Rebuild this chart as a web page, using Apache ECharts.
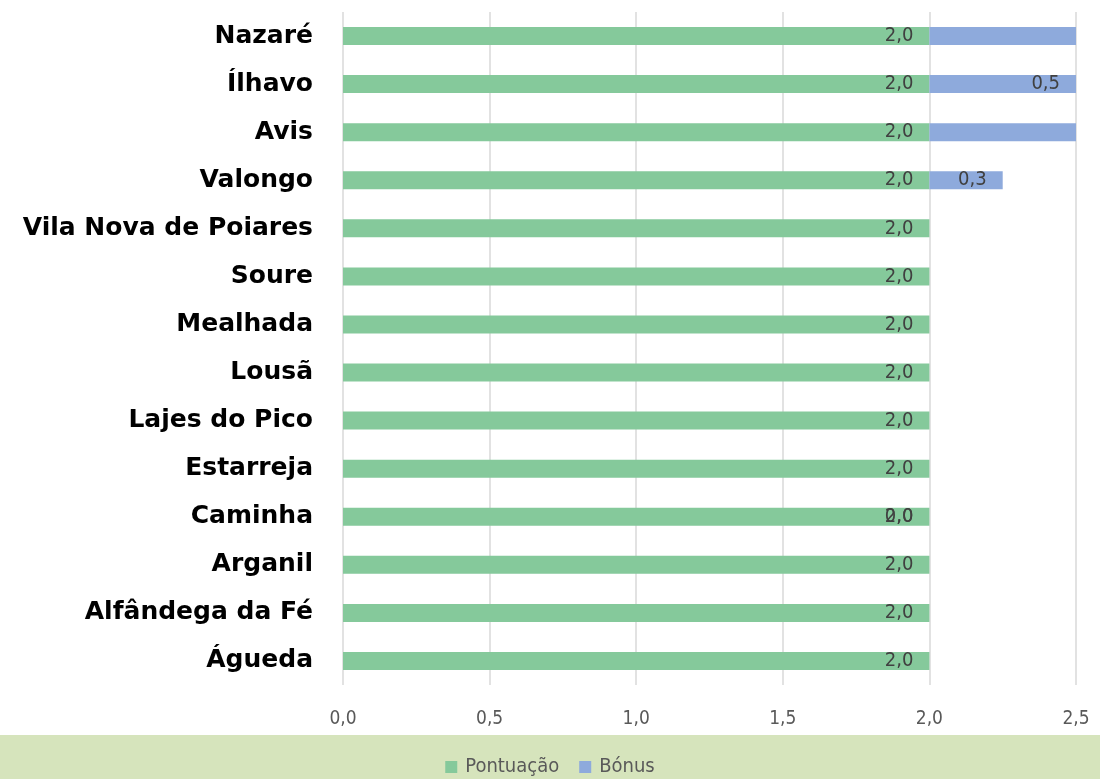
<!DOCTYPE html>
<html>
<head>
<meta charset="utf-8">
<script src="https://cdn.jsdelivr.net/npm/echarts@6/dist/echarts.min.js"></script>
<style>
html, body { margin: 0; padding: 0; background: #ffffff; }
#chart { width: 1100px; height: 779px; }
</style>
</head>
<body>
<div id="chart"></div>
<script>
let categories = ['Nazaré', 'Ílhavo', 'Avis', 'Valongo', 'Vila Nova de Poiares', 'Soure', 'Mealhada',
    'Lousã', 'Lajes do Pico', 'Estarreja', 'Caminha', 'Arganil', 'Alfândega da Fé', 'Águeda']
let pontuacao = [2, 2, 2, 2, 2, 2, 2, 2, 2, 2, 2, 2, 2, 2]
let bonus = [0.5, 0.5, 0.5, 0.25, null, null, null, null, null, null, 0, null, null, null]
// só estas etiquetas de bónus aparecem no original
let bonusLabelShown = [false, true, false, true, false, false, false, false, false, false, true, false, false, false]

let narrow = "'DejaVu Sans Condensed', 'Liberation Sans Narrow', sans-serif"
let fmt = (v) => Number(v).toFixed(1).replace('.', ',')

let mychart = echarts.init(document.getElementById('chart'))

let bonusData = bonus.map((v, i) => {
    if (v === null) return null
    let item = { value: v, label: { show: bonusLabelShown[i] } }
    if (v === 0) {
        // barra de largura zero: etiqueta sobreposta ao "2,0"
        item.label.position = 'left'
        item.label.distance = 16
    }
    return item
})

let options = {
    animation: false,
    graphic: [{
        type: 'rect',
        left: 0,
        top: 735,
        shape: { width: 1100, height: 44 },
        style: { fill: '#d6e4bc' },
        z: -10
    }],
    grid: { left: 343, right: 24, top: 12, bottom: 94, containLabel: false },
    legend: {
        top: 757,
        left: 'center',
        padding: 0,
        itemWidth: 12,
        itemHeight: 12,
        itemGap: 20,
        icon: 'rect',
        textStyle: { color: '#595959', fontSize: 20, fontFamily: narrow, padding: [0, 0, 0, 3] },
        data: ['Pontuação', 'Bónus']
    },
    xAxis: {
        type: 'value',
        min: 0,
        max: 2.5,
        interval: 0.5,
        axisLine: { show: false },
        axisTick: { show: false },
        splitLine: { lineStyle: { color: '#d9d9d9', width: 1.5 } },
        axisLabel: {
            color: '#595959',
            fontSize: 19,
            fontFamily: narrow,
            margin: 25,
            formatter: (v) => fmt(v)
        }
    },
    yAxis: {
        type: 'category',
        inverse: true,
        data: categories,
        axisLine: { show: false },
        axisTick: { show: false },
        axisLabel: {
            color: '#000000',
            fontSize: 25,
            fontWeight: 'bold',
            fontFamily: 'DejaVu Sans',
            margin: 30
        }
    },
    series: [
        {
            name: 'Pontuação',
            type: 'bar',
            stack: 'total',
            data: pontuacao,
            barWidth: 18,
            itemStyle: { color: '#85c99b' },
            label: {
                show: true,
                position: 'insideRight',
                distance: 16,
                color: '#404040',
                fontSize: 20,
                fontFamily: narrow,
                formatter: (p) => fmt(p.value)
            }
        },
        {
            name: 'Bónus',
            type: 'bar',
            stack: 'total',
            data: bonusData,
            barWidth: 18,
            itemStyle: { color: '#8eaadc' },
            label: {
                position: 'insideRight',
                distance: 16,
                color: '#404040',
                fontSize: 20,
                fontFamily: narrow,
                formatter: (p) => fmt(p.value)
            }
        }
    ]
}
mychart.setOption(options)
</script>
</body>
</html>
